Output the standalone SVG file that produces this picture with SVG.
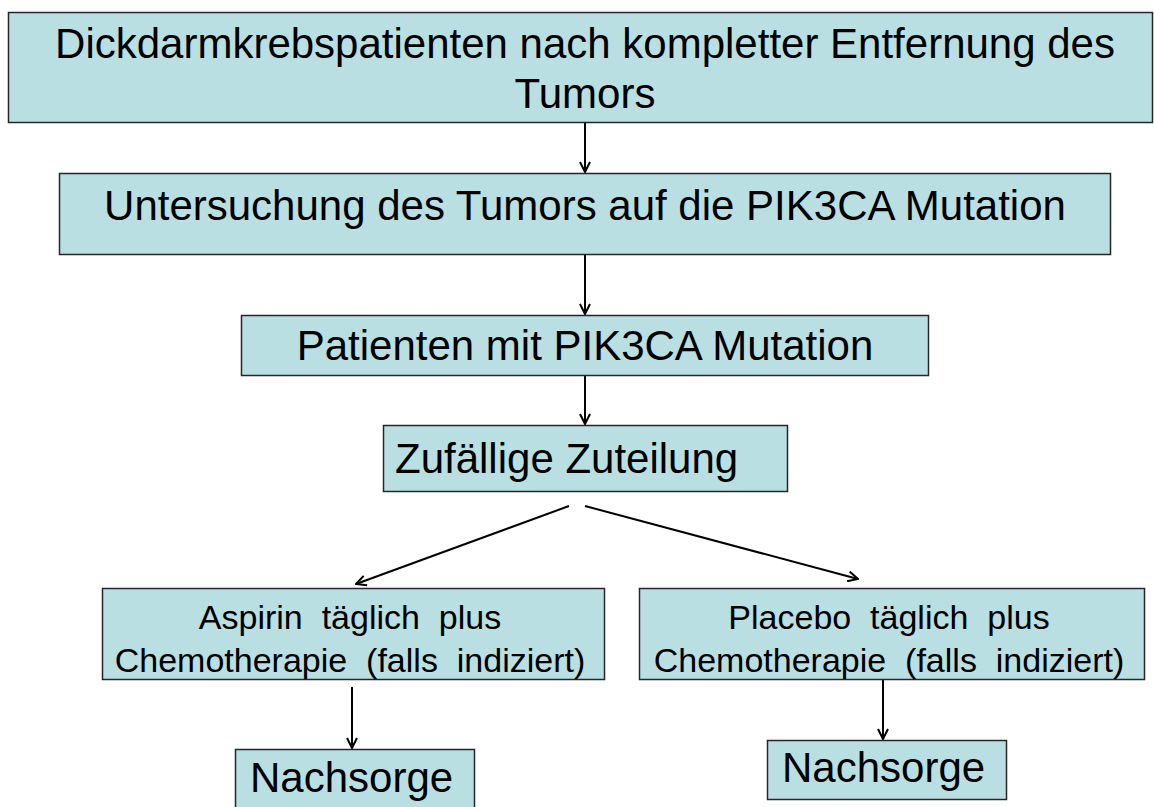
<svg xmlns="http://www.w3.org/2000/svg" width="1154" height="807" viewBox="0 0 1154 807">
<style>
.box{fill:#BADFE3;stroke:#262626;stroke-width:1.5}
.t{font-family:"Liberation Sans",Arial,sans-serif;fill:#000}
.big{font-size:42px}
.mid{font-size:34px}
.c{text-anchor:middle}
.con{stroke:#000;stroke-width:2;fill:none}
</style>
<defs>
<marker id="arr" viewBox="0 0 12 12" refX="11" refY="6" markerWidth="12" markerHeight="12" markerUnits="userSpaceOnUse" orient="auto">
<path d="M1,1 L11,6 L1,11" fill="none" stroke="#000" stroke-width="2"/>
</marker>
</defs>
<rect width="1154" height="807" fill="#fff"/>
<g id="connectors">
<line class="con" x1="585" y1="123" x2="585" y2="172" marker-end="url(#arr)"/>
<line class="con" x1="585" y1="255" x2="585" y2="314" marker-end="url(#arr)"/>
<line class="con" x1="585" y1="376" x2="585" y2="424" marker-end="url(#arr)"/>
<line class="con" x1="569" y1="506" x2="356" y2="584" marker-end="url(#arr)"/>
<line class="con" x1="585" y1="506" x2="858" y2="579" marker-end="url(#arr)"/>
<line class="con" x1="352" y1="687" x2="352" y2="748" marker-end="url(#arr)"/>
<line class="con" x1="883" y1="679" x2="883" y2="739" marker-end="url(#arr)"/>
</g>
<g id="n1">
<rect class="box" x="8.5" y="12.5" width="1144" height="110"/>
<text class="t big c" x="585" y="58">Dickdarmkrebspatienten nach kompletter Entfernung des</text>
<text class="t big c" x="585" y="108">Tumors</text>
</g>
<g id="n2">
<rect class="box" x="59.5" y="173.5" width="1051" height="81"/>
<text class="t big c" x="585" y="220">Untersuchung des Tumors auf die PIK3CA Mutation</text>
</g>
<g id="n3">
<rect class="box" x="241.5" y="315.5" width="687" height="60"/>
<text class="t big c" x="585" y="360">Patienten mit PIK3CA Mutation</text>
</g>
<g id="n4">
<rect class="box" x="383.5" y="425.5" width="404" height="66"/>
<text class="t big" x="395" y="473">Zufällige Zuteilung</text>
</g>
<g id="n5">
<rect class="box" x="102.5" y="588.5" width="502" height="91"/>
<text class="t mid c" x="350" y="629" xml:space="preserve">Aspirin  täglich  plus</text>
<text class="t mid c" x="350" y="672" xml:space="preserve">Chemotherapie  (falls  indiziert)</text>
</g>
<g id="n6">
<rect class="box" x="639.5" y="588.5" width="505" height="91"/>
<text class="t mid c" x="889" y="629" xml:space="preserve">Placebo  täglich  plus</text>
<text class="t mid c" x="889" y="672" xml:space="preserve">Chemotherapie  (falls  indiziert)</text>
</g>
<g id="n7">
<rect class="box" x="235.5" y="749.5" width="239" height="70"/>
<text class="t big" x="250" y="792">Nachsorge</text>
</g>
<g id="n8">
<rect class="box" x="767.5" y="740.5" width="239" height="59"/>
<text class="t big" x="782" y="782">Nachsorge</text>
</g>
</svg>
